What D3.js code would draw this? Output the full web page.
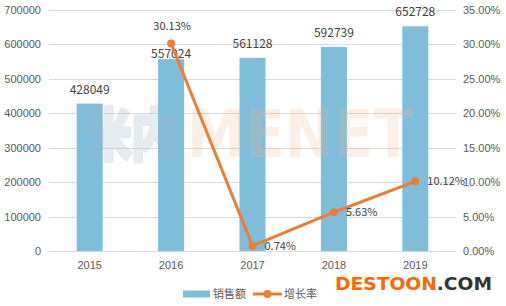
<!DOCTYPE html>
<html>
<head>
<meta charset="utf-8">
<script src="https://cdn.jsdelivr.net/npm/d3@7"></script>
<style>
  body { margin: 0; background: #fff; }
  svg { display: block; overflow: visible; font-family: "Noto Sans CJK SC", "Noto Sans", sans-serif; }
</style>
</head>
<body>
<svg class="mysvg"></svg>
<script>
// chart data
const years = ["2015", "2016", "2017", "2018", "2019"];
const sales = [428049, 557024, 561128, 592739, 652728];
const growth = [null, 30.13, 0.74, 5.63, 10.12];
const leftTicks = [0, 100000, 200000, 300000, 400000, 500000, 600000, 700000];
const rightTicks = [0, 5, 10, 15, 20, 25, 30, 35];

const width = 506, height = 306;
const margin = { top: 10, right: 50, bottom: 55, left: 49 };
const innerWidth = width - margin.left - margin.right;
const innerHeight = height - margin.top - margin.bottom;

const barColor = "#7FBEDB";
const lineColor = "#ED7D31";
const textColor = "#595959";

const svg = d3.select(".mysvg").attr("width", width).attr("height", height);
const g = svg.append("g").attr("transform", `translate(${margin.left},${margin.top})`);

const x = d3.scaleBand().domain(years).range([0, innerWidth]).paddingInner(0.68).paddingOuter(0.34);
const yLeft = d3.scaleLinear().domain([0, 700000]).range([innerHeight, 0]);
const yRight = d3.scaleLinear().domain([0, 35]).range([innerHeight, 0]);

// gridlines
g.append("g")
  .selectAll("line")
  .data(leftTicks)
  .enter()
  .append("line")
  .attr("x1", 0)
  .attr("x2", innerWidth)
  .attr("y1", (d) => Math.round(yLeft(d)) + 0.5)
  .attr("y2", (d) => Math.round(yLeft(d)) + 0.5)
  .attr("stroke", "#D9D9D9")
  .attr("stroke-width", 1);

// left axis
const axL = g.append("g")
  .call(d3.axisLeft(yLeft).tickValues(leftTicks).tickFormat(d3.format("d")).tickSize(0).tickPadding(8));
axL.select(".domain").remove();
axL.selectAll("text").attr("fill", textColor).style("font-size", "11px");

// right axis
const axR = g.append("g")
  .attr("transform", `translate(${innerWidth},0)`)
  .call(d3.axisRight(yRight).tickValues(rightTicks).tickFormat((d) => d.toFixed(2) + "%").tickSize(0).tickPadding(7));
axR.select(".domain").remove();
axR.selectAll("text").attr("fill", textColor).style("font-size", "11px");

// x axis
const axX = g.append("g")
  .attr("transform", `translate(0,${innerHeight})`)
  .call(d3.axisBottom(x).tickSize(0).tickPadding(10));
axX.select(".domain").remove();
axX.selectAll("text").attr("fill", textColor).style("font-size", "11px");

// bars
g.selectAll(".bar")
  .data(years)
  .enter()
  .append("rect")
  .attr("class", "bar")
  .attr("x", (d) => x(d))
  .attr("y", (d, i) => yLeft(sales[i]))
  .attr("width", x.bandwidth())
  .attr("height", (d, i) => innerHeight - yLeft(sales[i]))
  .attr("fill", barColor);

// bar labels (2016 label pushed down to make room for the % label)
g.selectAll(".bar-label")
  .data(years)
  .enter()
  .append("text")
  .attr("x", (d) => x(d) + x.bandwidth() / 2)
  .attr("y", (d, i) => yLeft(sales[i]) - (i === 1 ? 1 : 10))
  .attr("text-anchor", "middle")
  .attr("fill", "#404040")
  .style("font-size", "12px")
  .text((d, i) => sales[i]);

// watermark
const wm = g.append("g").attr("font-weight", "bold");
wm.append("text")
  .attr("x", 37).attr("y", 145)
  .attr("textLength", 91).attr("lengthAdjust", "spacingAndGlyphs")
  .style("font-size", "56px")
  .attr("fill", "#9BB8C8").attr("stroke", "#9BB8C8").attr("stroke-width", 5)
  .attr("stroke-linejoin", "round").attr("opacity", 0.25)
  .text("米内");
wm.append("text")
  .attr("x", 138).attr("y", 147)
  .attr("textLength", 226).attr("lengthAdjust", "spacingAndGlyphs")
  .style("font-size", "66px")
  .style("font-family", "'DejaVu Sans', sans-serif")
  .attr("fill", "#F4B183").attr("opacity", 0.2)
  .text("MENET");

// growth line
const pts = years.map((d, i) => ({ year: d, v: growth[i] })).filter((d) => d.v !== null);
const line = d3.line()
  .x((d) => x(d.year) + x.bandwidth() / 2)
  .y((d) => yRight(d.v));

g.append("path")
  .datum(pts)
  .attr("d", line)
  .attr("fill", "none")
  .attr("stroke", lineColor)
  .attr("stroke-width", 3)
  .attr("stroke-linejoin", "round");

g.selectAll(".dot")
  .data(pts)
  .enter()
  .append("circle")
  .attr("cx", (d) => x(d.year) + x.bandwidth() / 2)
  .attr("cy", (d) => yRight(d.v))
  .attr("r", 4)
  .attr("fill", lineColor);

// growth labels: first above, others to the right
g.selectAll(".pct-label")
  .data(pts)
  .enter()
  .append("text")
  .attr("x", (d, i) => x(d.year) + x.bandwidth() / 2 + (i === 0 ? 1 : 12))
  .attr("y", (d, i) => yRight(d.v) + (i === 0 ? -14 : 4))
  .attr("text-anchor", (d, i) => (i === 0 ? "middle" : "start"))
  .attr("fill", "#404040")
  .style("font-size", "11px")
  .text((d) => d.v.toFixed(2) + "%");

// legend
const legend = svg.append("g").attr("transform", "translate(183,294)");
legend.append("rect").attr("x", 0).attr("y", -3.5).attr("width", 27).attr("height", 7).attr("fill", barColor);
legend.append("text").attr("x", 30).attr("y", 4).attr("fill", textColor).style("font-size", "11px").text("销售额");
legend.append("line").attr("x1", 70).attr("x2", 99).attr("y1", 0).attr("y2", 0).attr("stroke", lineColor).attr("stroke-width", 3);
legend.append("circle").attr("cx", 84.5).attr("cy", 0).attr("r", 4).attr("fill", lineColor);
legend.append("text").attr("x", 101).attr("y", 4).attr("fill", textColor).style("font-size", "11px").text("增长率");

// site logo
const logo = svg.append("text")
  .attr("x", 335).attr("y", 290)
  .attr("textLength", 157).attr("lengthAdjust", "spacingAndGlyphs")
  .style("font-family", "'DejaVu Sans', sans-serif")
  .style("font-size", "17px")
  .attr("font-weight", "bold");
logo.append("tspan").attr("fill", "#FF6600").text("DESTOON");
logo.append("tspan").attr("fill", "#333333").text(".COM");
</script>
</body>
</html>
